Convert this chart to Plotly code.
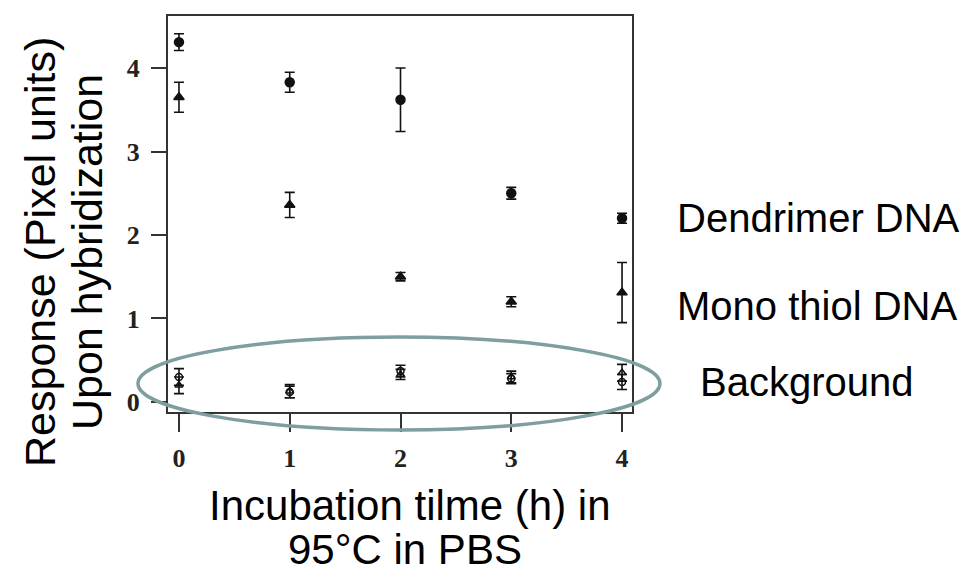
import plotly.graph_objects as go

hours = [0, 1, 2, 3, 4]
tick_labels = ["0", "1", "2", "3", "4"]
y_ticks = [0, 1, 2, 3, 4]

dendrimer = [4.31, 3.83, 3.62, 2.50, 2.20]
dendrimer_err = [0.10, 0.12, 0.38, 0.07, 0.06]
mono = [3.65, 2.36, 1.50, 1.20, 1.31]
mono_err = [0.18, 0.15, 0.05, 0.06, 0.36]
bg_dend = [0.30, 0.12, 0.37, 0.28, 0.24]
bg_dend_err = [0.10, 0.07, 0.07, 0.06, 0.09]
bg_mono = [0.20, 0.13, 0.33, 0.30, 0.35]
bg_mono_err = [0.10, 0.08, 0.06, 0.07, 0.10]

label_texts = ["Dendrimer DNA", "Mono thiol DNA", "Background"]
x_title_lines = ["Incubation tilme (h) in", "95°C in PBS"]
y_title_lines = ["Response (Pixel units)", "Upon hybridization"]

fig = go.Figure()

def add_series(y, err, symbol, size):
    fig.add_trace(go.Scatter(
        x=hours, y=y, mode="markers",
        marker=dict(symbol=symbol, size=size, color="#111111",
                    line=dict(color="#111111", width=1.5)),
        error_y=dict(type="data", array=err, visible=True, color="#111111",
                     thickness=1.6, width=5),
        showlegend=False, cliponaxis=False,
    ))

add_series(bg_dend, bg_dend_err, "circle-open", 7)
add_series(bg_mono, bg_mono_err, "triangle-up-open", 7)
add_series(dendrimer, dendrimer_err, "circle", 9)
add_series(mono, mono_err, "triangle-up", 9)

serif = "Liberation Serif, Times New Roman, serif"
sans = "Liberation Sans, Arial, sans-serif"

tick_font = dict(family=serif, size=26, color="#222222", weight="bold")

fig.update_layout(
    width=975, height=574,
    margin=dict(l=168, r=343, t=16, b=162),
    paper_bgcolor="white", plot_bgcolor="white",
    xaxis=dict(range=[-0.099, 4.09], tickvals=hours, ticktext=tick_labels,
               showgrid=False, zeroline=False, showline=True, linecolor="#333333",
               linewidth=2, mirror=True, ticks="outside", ticklen=18, tickwidth=2,
               tickcolor="#333333", tickfont=tick_font, ticklabelstandoff=4),
    yaxis=dict(range=[-0.12, 4.623], tickvals=y_ticks, ticktext=[str(v) for v in y_ticks],
               showgrid=False, zeroline=False, showline=True, linecolor="#333333",
               linewidth=2, mirror=True, ticks="outside", ticklen=15, tickwidth=2,
               tickcolor="#333333", tickfont=tick_font, ticklabelstandoff=6),
)

# Ellipse highlighting the background
fig.add_shape(type="circle", xref="paper", yref="paper",
              x0=-0.0647, x1=1.0603, y0=-0.0455, y1=0.1894,
              line=dict(color="#7f9e9f", width=3.5), layer="above")

# Right-hand labels
label_pos = [(1.0927, 0.49), (1.0927, 0.2677), (1.142, 0.0758)]
for txt, (px, py) in zip(label_texts, label_pos):
    fig.add_annotation(text=txt, xref="paper", yref="paper", x=px, y=py,
                       xanchor="left", yanchor="middle", showarrow=False,
                       font=dict(family=sans, size=40, color="black"))

# X title (two lines)
for txt, (px, py) in zip(x_title_lines, [(0.5216, -0.235), (0.511, -0.348)]):
    fig.add_annotation(text=txt, xref="paper", yref="paper", x=px, y=py,
                       xanchor="center", yanchor="middle", showarrow=False,
                       font=dict(family=sans, size=42, color="black"))

# Y title (two lines, rotated)
for txt, (px, py) in zip(y_title_lines, [(-0.276, 0.404), (-0.1746, 0.404)]):
    fig.add_annotation(text=txt, xref="paper", yref="paper", x=px, y=py,
                       xanchor="center", yanchor="middle", showarrow=False,
                       textangle=-90,
                       font=dict(family=sans, size=43, color="black"))

fig.write_html("out.html", config={"displayModeBar": False},
               post_script="document.body.style.margin='0px';")
